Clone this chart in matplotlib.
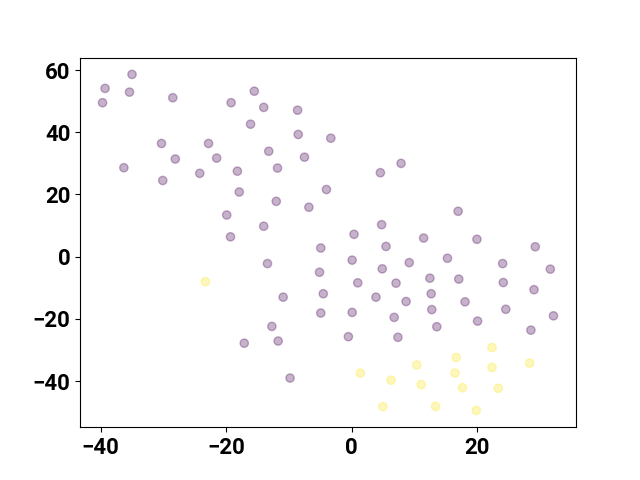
import matplotlib
matplotlib.use('Agg')
import matplotlib.pyplot as plt
from matplotlib.ticker import MultipleLocator
import numpy as np

# cluster 0 (purple) points
x0 = [-35.0, -39.3, -35.4, -39.7, -28.5, -19.2, -15.5, -14.0, -8.6, -16.1,
      -8.5, -3.3, -30.3, -22.8, -28.1, -21.5, -13.2, -7.5, -11.8, -36.3,
      -30.1, -24.2, -18.2, -17.9, -4.0, -12.0, -6.8, -19.9, -14.0, -19.3,
      -4.9, -13.4, -5.1, -10.9, -4.5, -4.9, -12.7, -17.1, -11.7, -9.8,
      7.9, 4.6, 17.0, 4.8, 0.4, 11.5, 20.0, 5.5, 29.3,
      0.1, 4.9, 9.2, 15.3, 24.1, 31.7, 1.0, 7.1, 12.5, 17.1, 24.2,
      3.9, 8.7, 12.7, 18.1, 29.1, 0.1, 6.8, 12.8, 24.6, 32.2,
      13.6, 20.1, 28.6, -0.5, 7.4]
y0 = [58.6, 54.1, 52.9, 49.5, 51.1, 49.5, 53.2, 48.0, 47.1, 42.6,
      39.3, 38.1, 36.4, 36.4, 31.4, 31.7, 33.9, 32.0, 28.5, 28.6,
      24.5, 26.8, 27.5, 20.8, 21.6, 17.8, 15.9, 13.4, 9.8, 6.4,
      2.8, -2.2, -5.0, -13.0, -11.9, -18.1, -22.4, -27.8, -27.1, -39.0,
      30.0, 27.0, 14.6, 10.3, 7.2, 6.0, 5.6, 3.3, 3.2,
      -1.1, -3.9, -1.9, -0.5, -2.2, -4.0, -8.4, -8.5, -6.9, -7.2, -8.3,
      -13.0, -14.4, -11.9, -14.5, -10.6, -17.9, -19.5, -17.0, -16.9, -19.0,
      -22.5, -20.7, -23.6, -25.7, -25.9]

# cluster 1 (yellow) points
x1 = [-23.3, 22.4, 16.7, 10.4, 22.4, 28.4, 1.4, 16.5, 6.3, 11.1,
      17.7, 23.4, 5.0, 13.4, 19.9]
y1 = [-8.0, -29.2, -32.4, -34.8, -35.6, -34.2, -37.4, -37.4, -39.7, -41.1,
      -42.1, -42.3, -48.2, -48.1, -49.4]

x = np.array(x0 + x1)
y = np.array(y0 + y1)
labels = np.array([0] * len(x0) + [1] * len(x1))

plt.rcParams['font.family'] = ['Roboto', 'DejaVu Sans']
plt.rcParams['font.weight'] = 'bold'

fig = plt.figure(figsize=(6.4, 4.8), dpi=100)
plt.scatter(x, y, c=labels, cmap='viridis', alpha=0.3)
ax = plt.gca()
ax.xaxis.set_major_locator(MultipleLocator(20))
ax.yaxis.set_major_locator(MultipleLocator(20))
plt.xticks(fontsize=16, fontweight='bold')
plt.yticks(fontsize=16, fontweight='bold')
plt.savefig('out.png')
